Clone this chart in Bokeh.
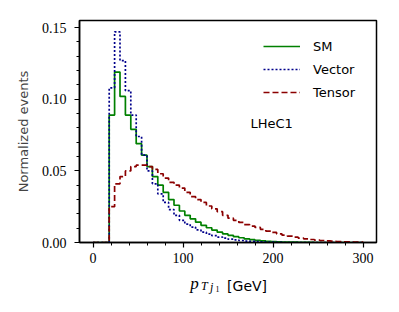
import numpy as np
from bokeh.plotting import figure
from bokeh.layouts import column
from bokeh.models import Range1d, Label, Legend, LegendItem, FixedTicker
from bokeh.core.properties import value
from bokeh.embed import file_html
from bokeh.resources import INLINE

# histogram binning (GeV)
bin_start = 0
bin_width = 6
n_bins = 50

# normalized events per bin (bins 0-6, 6-12, ... 294-300)
sm = [0, 0, 0,
      0.089, 0.119, 0.102, 0.089, 0.079, 0.069, 0.061, 0.053, 0.046, 0.040,
      0.035, 0.030, 0.026, 0.022, 0.019, 0.0165, 0.0142, 0.012, 0.0103, 0.0087,
      0.0072, 0.006, 0.005, 0.0041, 0.0033, 0.0026, 0.002, 0.0015, 0.0011, 0.0008,
      0.0006, 0.0004, 0.0003, 0.0002, 0.0002, 0.0001, 0.0001, 0.0001, 0.0, 0.0,
      0.0, 0.0, 0.0, 0.0, 0.0, 0.0, 0.0]
vector = [0, 0, 0,
          0.108, 0.147, 0.127, 0.106, 0.089, 0.074, 0.061, 0.050, 0.041, 0.034,
          0.028, 0.023, 0.019, 0.0155, 0.0128, 0.0108, 0.0088, 0.0072, 0.0059, 0.0048,
          0.0038, 0.003, 0.0023, 0.0018, 0.0014, 0.001, 0.0008, 0.0006, 0.0004, 0.0003,
          0.0002, 0.0001, 0.0, 0.0, 0.0, 0.0, 0.0, 0.0, 0.0, 0.0,
          0.0, 0.0, 0.0, 0.0, 0.0, 0.0, 0.0]
tensor = [0, 0, 0,
          0.025, 0.041, 0.046, 0.050, 0.053, 0.054, 0.054, 0.053, 0.051, 0.048,
          0.045, 0.042, 0.040, 0.038, 0.035, 0.032, 0.030, 0.028, 0.0255, 0.0235,
          0.0215, 0.019, 0.017, 0.0155, 0.014, 0.0125, 0.0115, 0.0105, 0.0092, 0.008,
          0.007, 0.006, 0.0051, 0.0044, 0.0037, 0.0031, 0.0026, 0.0021, 0.0017, 0.0014,
          0.0011, 0.0009, 0.0007, 0.0005, 0.0004, 0.0003, 0.0002]

series_names = ["SM", "Vector", "Tensor"]
x_ticks = [0, 100, 200, 300]
y_ticks = [0.0, 0.05, 0.10, 0.15]
y_tick_labels = ["0.00", "0.05", "0.10", "0.15"]

edges = bin_start + bin_width * np.arange(n_bins + 1)

p = figure(width=391, height=270, output_backend="svg", toolbar_location=None,
           x_range=Range1d(-15, 315), y_range=Range1d(0, 0.155),
           min_border_left=79, min_border_right=15, min_border_top=20,
           min_border_bottom=28)
p.background_fill_color = "white"
p.border_fill_color = "white"
p.outline_line_color = "black"
p.outline_line_width = 1.5
p.xgrid.visible = False
p.ygrid.visible = False

def stepxy(vals):
    v = np.asarray(vals, dtype=float)
    xs = np.repeat(edges, 2)[1:-1]
    ys = np.repeat(v, 2)
    xs = np.concatenate([[edges[0]], xs, [edges[-1]]])
    ys = np.concatenate([[0.0], ys, [0.0]])
    return xs, ys

xs, ys = stepxy(sm)
r_sm = p.line(xs, ys, line_color="#008000", line_width=1.7)
xs, ys = stepxy(vector)
r_v = p.line(xs, ys, line_color="#00008B", line_width=1.7, line_dash="2 2")
xs, ys = stepxy(tensor)
r_t = p.line(xs, ys, line_color="#8B0000", line_width=1.7, line_dash="6 3")

legend = Legend(items=[LegendItem(label=series_names[0], renderers=[r_sm]),
                       LegendItem(label=series_names[1], renderers=[r_v]),
                       LegendItem(label=series_names[2], renderers=[r_t])],
                location=(174, 130))
legend.border_line_alpha = 0
legend.background_fill_alpha = 0
legend.label_text_font = "DejaVu Sans"
legend.label_text_font_size = "13px"
legend.label_text_color = "black"
legend.glyph_width = 37
legend.glyph_height = 20
legend.label_height = 20
legend.spacing = 3
legend.label_standoff = 13
legend.padding = 10
legend.margin = 0
p.add_layout(legend)

p.add_layout(Label(x=175, y=0.083, text="LHeC1", text_font="DejaVu Sans",
                   text_font_size="13px", text_baseline="middle", text_color="black"))

# axes
for ax in (p.xaxis[0], p.yaxis[0]):
    ax.axis_line_color = "black"
    ax.axis_line_width = 1.5
    ax.major_tick_line_color = "black"
    ax.major_tick_line_width = 1.2
    ax.minor_tick_line_color = "black"
    ax.minor_tick_line_width = 1
    ax.major_tick_out = 5
    ax.major_tick_in = 0
    ax.minor_tick_out = 3
    ax.minor_tick_in = 0
    ax.major_label_text_font = "Liberation Serif"
    ax.major_label_text_font_size = "14px"
    ax.major_label_text_color = "black"

p.xaxis.major_label_standoff = 5
p.yaxis.major_label_standoff = 8
p.xaxis.ticker = FixedTicker(ticks=x_ticks, minor_ticks=list(range(-20, 320, 20)))
p.yaxis.ticker = FixedTicker(ticks=y_ticks, minor_ticks=[i * 0.01 for i in range(16)])
p.yaxis.major_label_overrides = {t: l for t, l in zip(y_ticks, y_tick_labels)}
p.yaxis.axis_label = "Normalized events"
p.yaxis.axis_label_text_font = "DejaVu Sans"
p.yaxis.axis_label_text_font_style = "normal"
p.yaxis.axis_label_text_font_size = "13px"
p.yaxis.axis_label_standoff = 8
p.xaxis.axis_label = None

# x-axis title strip: p_{T j_1} [GeV], drawn as text glyphs sharing the x scale
xl = figure(width=391, height=34, output_backend="svg", toolbar_location=None,
            x_range=p.x_range, y_range=Range1d(0, 34),
            x_axis_location=None, y_axis_location=None,
            min_border_left=79, min_border_right=15, min_border_top=0,
            min_border_bottom=0)
xl.outline_line_color = None
xl.xgrid.visible = False
xl.ygrid.visible = False
xl.background_fill_color = "white"
xl.border_fill_color = "white"

def piece(x, y, text, font, size, style="normal"):
    xl.text(x=[x], y=[y], text=[text], text_font=value(font),
            text_font_style=value(style), text_font_size=value(size),
            text_color="black", text_baseline="alphabetic", text_align="left")

piece(108, 21, "p", "Liberation Serif", "17px", "italic")
piece(120, 19, "T", "Liberation Serif", "12px", "italic")
piece(130, 18, "j", "Liberation Serif", "12px", "italic")
piece(136, 16, "1", "Liberation Serif", "8px")
piece(149, 19, "[GeV]", "DejaVu Sans", "14px")

layout = column(p, xl, spacing=0)
open("out.html", "w").write(file_html(layout, INLINE))
